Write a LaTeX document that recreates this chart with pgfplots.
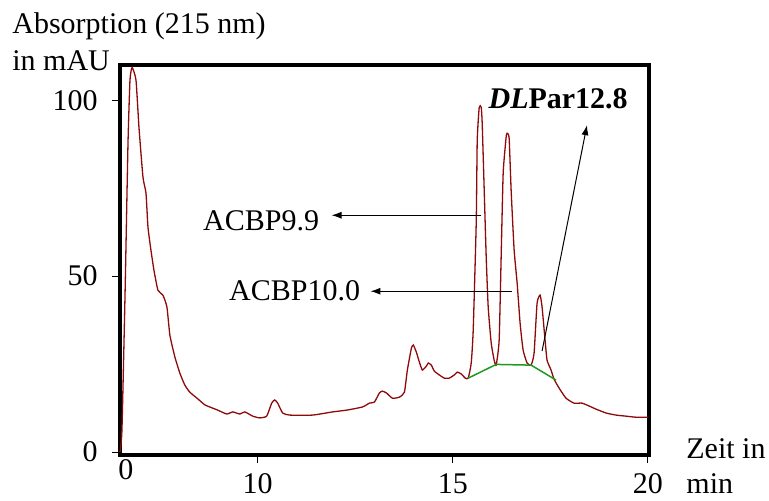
\documentclass[border=0pt]{standalone}
\usepackage{fontspec}
\setmainfont{Liberation Serif}
\usepackage{pgfplots}
\pgfplotsset{compat=1.18}
\usetikzlibrary{arrows.meta}
\definecolor{trace}{HTML}{8E0A0A}
\definecolor{base}{HTML}{1F9A1F}

\begin{document}
\begin{tikzpicture}[font=\fontsize{15}{18}\selectfont]
\path[use as bounding box] (-60pt,-22.5pt) rectangle (324.5pt,227.5pt);
\begin{axis}[
  at={(0,0)}, anchor=south west,
  scale only axis,
  width=264.5pt, height=195pt,
  xmin=6.47, xmax=20.03,
  ymin=-0.85, ymax=110,
  xtick={10,15,20},
  ytick={0,50,100},
  xtick pos=bottom, ytick pos=left,
  extra x ticks={6.62},
  extra x tick labels={0},
  extra x tick style={major tick length=0pt, xticklabel style={yshift=3pt}},
  tick align=outside,
  major tick length=4pt,
  tick style={black, line width=0.5pt},
  axis line style={line width=2.25pt, line join=miter},
  /pgf/number format/assume math mode=true,
  xticklabel style={inner sep=0pt, yshift=-5pt},
  yticklabel style={inner sep=0pt, xshift=-7pt},
  clip=false,
]
% chromatogram trace
\addplot[trace, line width=0.65pt, smooth, tension=0.3] coordinates {
  (6.47,0.0) (6.52,6.25) (6.60,45.2) (6.675,87.8) (6.726,105.7) (6.78,109.3)
  (6.88,105.7) (6.956,92.3) (7.059,78.1) (7.136,73.6) (7.187,63.9) (7.263,57.4)
  (7.340,51.7) (7.442,46.0) (7.570,44.6) (7.673,41.2) (7.749,33.2) (7.877,27.0)
  (8.005,22.4) (8.133,19.0) (8.261,17.0) (8.465,15.1) (8.645,13.4) (8.772,12.8)
  (8.977,11.9) (9.207,10.8) (9.361,11.4) (9.540,10.8) (9.668,11.4) (9.872,10.2)
  (10.051,9.7) (10.230,10.2) (10.358,13.9) (10.435,14.8) (10.512,13.9) (10.639,11.1)
  (10.818,10.5) (11.407,10.5) (11.918,11.4) (12.276,11.9) (12.685,12.8) (12.864,13.9)
  (12.992,14.2) (13.120,16.8) (13.197,17.3) (13.299,16.8) (13.453,15.3) (13.632,15.6)
  (13.760,17.0) (13.836,23.3) (13.939,29.5) (13.990,30.4) (14.066,28.4) (14.143,25.6)
  (14.220,23.3) (14.322,24.4) (14.373,25.3) (14.450,24.7) (14.527,23.0) (14.655,21.9)
  (14.783,21.0) (14.910,21.0) (15.038,21.9) (15.115,22.7) (15.217,22.2) (15.320,21.0)
  (15.396,21.0) (15.473,25.3) (15.524,34.7) (15.601,65.1) (15.627,88.6) (15.678,98.0)
  (15.729,98.0) (15.754,93.5) (15.806,74.4) (15.857,55.4) (15.908,41.2) (15.985,31.0)
  (16.061,26.1) (16.113,24.7) (16.189,31.8) (16.240,55.4) (16.292,79.3) (16.368,89.5)
  (16.394,90.6) (16.445,89.2) (16.496,74.4) (16.573,57.4) (16.650,48.0) (16.726,36.6)
  (16.803,29.0) (16.905,25.3) (17.008,24.7) (17.084,28.1) (17.161,42.3) (17.238,44.6)
  (17.289,41.2) (17.366,31.8) (17.417,26.1) (17.519,23.3) (17.596,20.7) (17.724,18.2)
  (17.903,15.3) (18.107,13.9) (18.312,13.9) (18.491,13.1) (18.670,12.2) (18.926,11.1)
  (19.182,10.5) (19.437,10.2) (19.693,9.9) (20.0,9.9)
};
% integration baseline
\addplot[base, line width=0.75pt] coordinates {
  (15.396,21.0) (16.113,24.9) (17.008,24.7) (17.647,20.45)
};
% annotations
\draw[-{Latex[length=5pt,width=3.5pt]}, line width=0.5pt] (axis cs:15.729,67.3) -- (axis cs:11.893,67.3);
\draw[-{Latex[length=5pt,width=3.5pt]}, line width=0.5pt] (axis cs:16.522,45.7) -- (axis cs:12.890,45.7);
\draw[-{Latex[length=5pt,width=3.5pt]}, line width=0.5pt] (axis cs:17.289,28.7) -- (axis cs:18.440,92.9);
\node[anchor=base west, inner sep=0pt] at (axis cs:8.593,63.1) {ACBP9.9};
\node[anchor=base west, inner sep=0pt] at (axis cs:9.258,43.2) {ACBP10.0};
\node[anchor=base west, inner sep=0pt] at (axis cs:15.908,97.7) {\textbf{\textit{DL}Par12.8}};
\end{axis}
\node[anchor=base west, inner sep=0pt] at (-54pt,211pt) {Absorption (215 nm)};
\node[anchor=base west, inner sep=0pt] at (-54pt,192.5pt) {in mAU};
\node[anchor=base west, inner sep=0pt] at (283pt,-1.5pt) {Zeit in};
\node[anchor=base west, inner sep=0pt] at (283pt,-19pt) {min};
\end{tikzpicture}
\end{document}
